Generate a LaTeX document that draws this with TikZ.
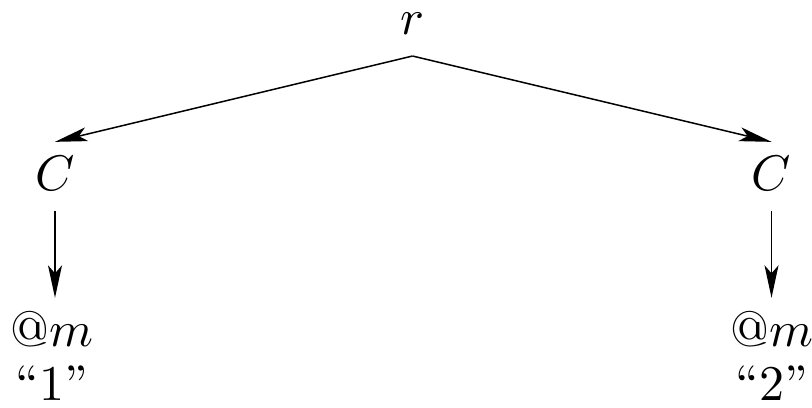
\documentclass[tikz,border=0pt]{standalone}
\usepackage{tikz}
\usetikzlibrary{arrows.meta}

\tikzset{
  lab/.style={inner xsep=0pt},
  leaf/.style={align=center, inner sep=0pt, anchor=south},
  edge/.style={->, line width=0.3pt}
}

\begin{document}
\begin{tikzpicture}[x=1pt, y=1pt, >={Stealth[length=6.5pt,width=2.8pt,inset=1.6pt]}]
      % page frame
      \useasboundingbox (0,0) rectangle (162.4,81.4);

      % root and the two C's
      \node[lab, anchor=base, inner ysep=4.2pt] (r) at (82.5,74.6) {$r$};
      \node[lab, anchor=base, inner ysep=2.6pt, text depth=1.4pt] (c1) at (11,43.4) {$C$};
      \node[lab, anchor=base, inner ysep=2.6pt, text depth=1.4pt] (c2) at (154.3,43.4) {$C$};

      % leaves
      \node[leaf] (m1) at (10.4,1.2) {$@m$\\[-1.2pt]``1''};
      \node[leaf] (m2) at (154.4,1.2) {$@m$\\[-1.2pt]``2''};

      % arrows
      \draw[edge] (r.south) -- (c1.north);
      \draw[edge] (r.south) -- (c2.north);
      \draw[edge] (c1.south) -- ([yshift=2.5pt]c1.south |- m1.north);
      \draw[edge] (c2.south) -- ([yshift=2.5pt]c2.south |- m2.north);
    \end{tikzpicture}
\end{document}
